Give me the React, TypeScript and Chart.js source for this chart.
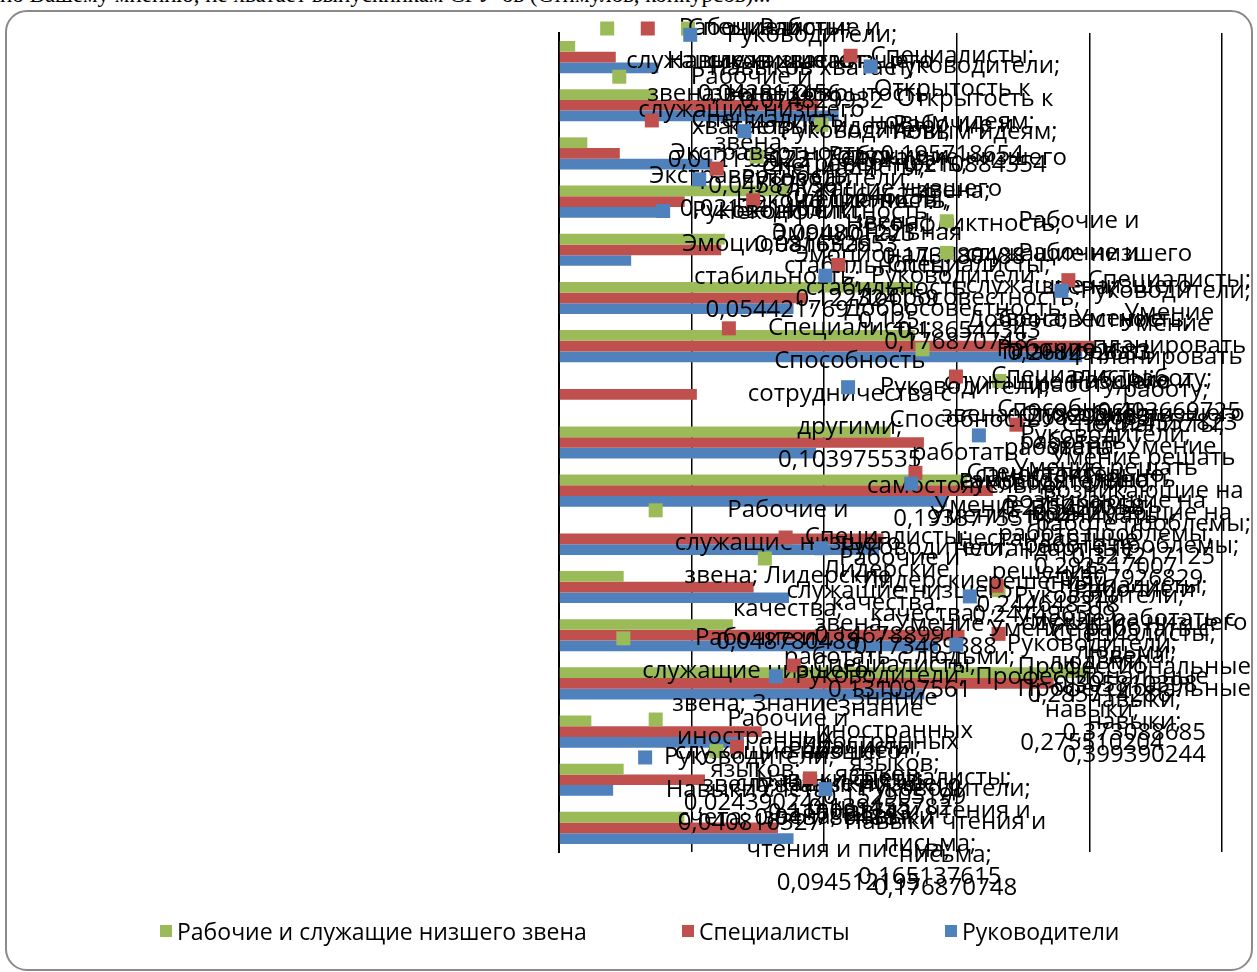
import React, { useEffect, useRef } from 'react';
import { Chart, registerables } from 'chart.js';

Chart.register(...registerables);

// ---------- data ----------
const categories = [
  'Навыков хватает',
  'Открытость к новым идеям',
  'Экстравертность',
  'Неконфликтность',
  'Эмоциональная стабильность',
  'Добросовестность',
  'Умение планировать работу',
  'Способность сотрудничества с другими',
  'Способность работать самостоятельно',
  'Умение решать возникающие на работе проблемы',
  'Умение принимать нестандартные решения',
  'Лидерские качества',
  'Умение работать с людьми',
  'Профессиональные навыки',
  'Знание иностранных языков',
  'Навыки счета',
  'Навыки чтения и письма',
];

const seriesNames = ['Рабочие и служащие низшего звена', 'Специалисты', 'Руководители'];

const workers = [
  0.012195122, 0.073170732, 0.021341463, 0.173780488, 0.125, 0.268292683, 0.268292683, null,
  0.25, 0.307926829, null, 0.048780488, 0.131097561, 0.399390244, 0.024390244, 0.048780488, 0.094512195,
];
const specialists = [
  0.042813456, 0.195718654, 0.04587156, 0.094801223, 0.122324159, 0.186544343, 0.403669725, 0.103975535,
  0.275229358, 0.327217125, 0.244648318, 0.146788991, 0.305810398, 0.373088685, 0.152905199, 0.110091743, 0.165137615,
];
const managers = [
  0.074829932, 0.210884354, 0.115646259, 0.081632653, 0.054421769, 0.176870748, 0.394557823, null,
  0.193877551, 0.292517007, 0.241496599, 0.173469388, 0.285714286, 0.275510204, 0.139455782, 0.040816327, 0.176870748,
];

const seriesColors = ['#9BBB59', '#C0504D', '#4F81BD'];
const axisMin = 0;
const axisMax = 0.5;
const axisStep = 0.1;

const headingText = 'по Вашему мнению, не хватает выпускникам СГУ-ов (Стимулов, конкурсов)...';

// ---------- style ----------
const LABEL_FONT = '24px "Open Sans"';
const LINE_H = 33;
const KEY = 14;
const KEY_GAP = 12;
const LABEL_OFFSET = 25;
const BOX = { left: 6, top: 12, right: 1251, bottom: 966 };

const fmt = (v: number) => String(v).replace('.', ',');

const labelPlugin = {
  id: 'excelLabels',
  afterDatasetsDraw(chart: any) {
    const ctx = chart.ctx as CanvasRenderingContext2D;
    ctx.save();
    ctx.font = LABEL_FONT;
    ctx.textBaseline = 'middle';
    ctx.textAlign = 'center';
    const maxW =
      Math.max(ctx.measureText('работать с людьми;').width, ctx.measureText('служащие низшего').width) + 2;
    chart.data.datasets.forEach((ds: any, di: number) => {
      const meta = chart.getDatasetMeta(di);
      meta.data.forEach((bar: any, i: number) => {
        const v = ds.data[i];
        if (v === null || v === undefined) return;
        const text = `${ds.label}; ${chart.data.labels[i]}; ${fmt(v)}`;
        const words = text.split(' ');
        const lines: string[] = [];
        let cur = '';
        for (const w of words) {
          const t = cur ? cur + ' ' + w : w;
          if (cur && ctx.measureText(t).width > maxW) {
            lines.push(cur);
            cur = w;
          } else cur = t;
        }
        if (cur) lines.push(cur);
        const blockW = Math.max(...lines.map((l) => ctx.measureText(l).width));
        const totalW = KEY + KEY_GAP + blockW;
        let keyX = bar.x + LABEL_OFFSET;
        if (keyX + totalW > BOX.right) keyX = BOX.right - totalW;
        const blockH = lines.length * LINE_H;
        let top = bar.y - blockH / 2;
        if (top < BOX.top) top = BOX.top;
        if (top + blockH > BOX.bottom) top = BOX.bottom - blockH;
        ctx.fillStyle = ds.backgroundColor;
        ctx.fillRect(keyX, top + LINE_H / 2 - KEY / 2, KEY, KEY);
        ctx.fillStyle = '#000';
        const cx = keyX + KEY + KEY_GAP + blockW / 2;
        lines.forEach((l, k) => ctx.fillText(l, cx, top + LINE_H / 2 + k * LINE_H));
      });
    });
    ctx.restore();
  },
};

export default function App() {
  const ref = useRef<HTMLCanvasElement>(null);

  useEffect(() => {
    if (!ref.current) return;
    const chart = new Chart(ref.current, {
      type: 'bar',
      data: {
        labels: categories,
        datasets: [workers, specialists, managers].map((d, i) => ({
          label: seriesNames[i],
          data: d,
          backgroundColor: seriesColors[i],
          borderWidth: 0,
          categoryPercentage: 0.667,
          barPercentage: 1,
        })),
      },
      options: {
        indexAxis: 'y',
        responsive: false,
        animation: false,
        layout: { padding: { left: 559, right: 35, top: 33, bottom: 120 } },
        plugins: { legend: { display: false }, tooltip: { enabled: false } },
        scales: {
          x: {
            min: axisMin,
            max: axisMax,
            ticks: { display: false, stepSize: axisStep },
            grid: { color: '#000', lineWidth: 1.5, drawTicks: false },
            border: { display: false },
          },
          y: {
            ticks: { display: false },
            grid: { display: false, drawTicks: false },
            border: { display: true, color: '#000', width: 2 },
          },
        },
      } as any,
      plugins: [labelPlugin],
    });
    return () => chart.destroy();
  }, []);

  const legendLeft = [160, 682, 945];

  return (
    <div style={{ position: 'absolute', left: 0, top: 0, width: 1257, height: 972, overflow: 'hidden', background: '#fff' }}>
      <div
        style={{
          position: 'absolute',
          left: 0,
          top: -17,
          fontFamily: '"Liberation Serif", serif',
          fontSize: 23,
          lineHeight: '24px',
          whiteSpace: 'nowrap',
          color: '#000',
        }}
      >
        {headingText}
      </div>
      <div
        style={{
          position: 'absolute',
          left: 5,
          top: 10,
          width: 1244,
          height: 957,
          border: '2px solid #8a8a8a',
          borderRadius: 22,
          background: '#fff',
        }}
      />
      <canvas ref={ref} width={1257} height={972} style={{ position: 'absolute', left: 0, top: 0 }} />
      {seriesNames.map((n, i) => (
        <div
          key={n}
          style={{
            position: 'absolute',
            left: legendLeft[i],
            top: 915,
            display: 'flex',
            alignItems: 'center',
            fontFamily: '"Open Sans", sans-serif',
            fontSize: 23,
            color: '#000',
            whiteSpace: 'nowrap',
          }}
        >
          <span style={{ display: 'inline-block', width: 12, height: 12, background: seriesColors[i], marginRight: 5 }} />
          {n}
        </div>
      ))}
    </div>
  );
}
